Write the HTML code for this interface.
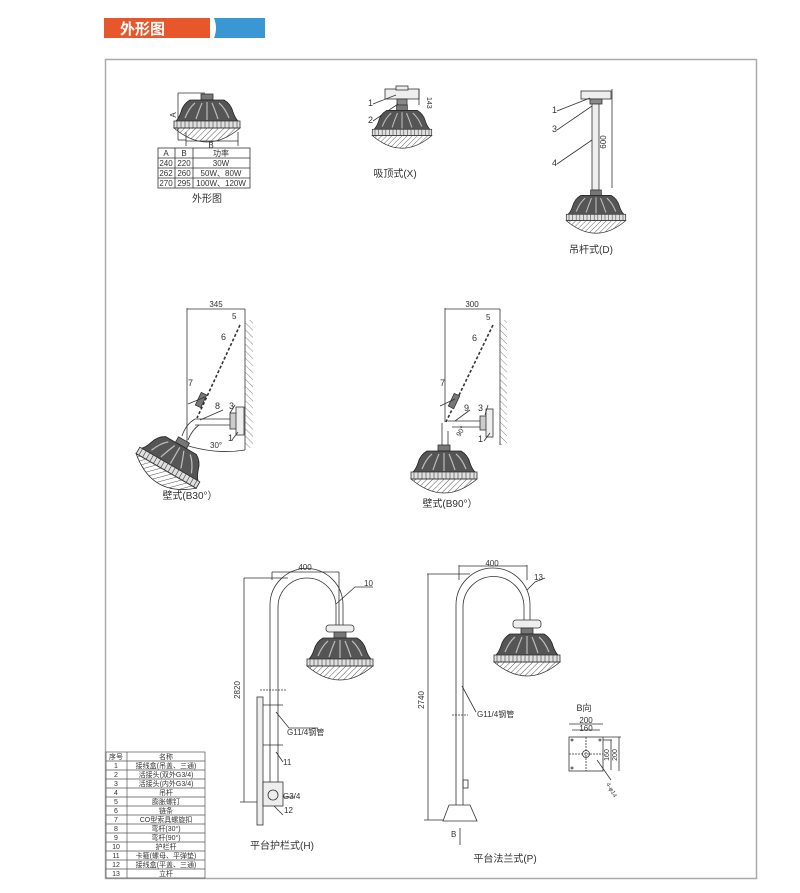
<!DOCTYPE html>
<html><head><meta charset="utf-8"><style>
html,body{margin:0;padding:0;background:#fff;}
svg{display:block;}
text{font-family:"Liberation Sans","Noto Sans CJK SC",sans-serif;fill:#333;}
</style></head><body>
<svg width="800" height="893" viewBox="0 0 800 893" xmlns="http://www.w3.org/2000/svg">
<defs>
<pattern id="hatch" width="4" height="4" patternUnits="userSpaceOnUse" patternTransform="rotate(45)">
<line x1="0" y1="0" x2="0" y2="4" stroke="#444" stroke-width="0.9"/></pattern>
<g id="lamp">
<rect x="-6" y="0" width="12" height="6" fill="#777" stroke="#333" stroke-width="0.8"/>
<path d="M-17,6 L17,6 Q24,10 26,18 Q28,24 31,27 L-31,27 Q-28,24 -26,18 Q-24,10 -17,6 Z" fill="#555" stroke="#222" stroke-width="0.8"/>
<path d="M-12,9 Q-18,14 -22,24 M-5,9 Q-8,16 -11,25 M5,9 Q8,16 11,25 M12,9 Q18,14 22,24 M0,8 L0,26" stroke="#bbb" stroke-width="1.2" fill="none"/>
<rect x="-33" y="27" width="66" height="7" fill="#e0e0e0" stroke="#333" stroke-width="0.8"/>
<path d="M-30,27 v7 M-26,27 v7 M-22,27 v7 M-18,27 v7 M-14,27 v7 M-10,27 v7 M-6,27 v7 M-2,27 v7 M2,27 v7 M6,27 v7 M10,27 v7 M14,27 v7 M18,27 v7 M22,27 v7 M26,27 v7 M30,27 v7" stroke="#555" stroke-width="0.7"/>
<path d="M-33,34 Q0,62 33,34 Z" fill="url(#hatch)" stroke="#333" stroke-width="0.8"/>
</g>
<pattern id="wallh" width="5" height="5" patternUnits="userSpaceOnUse" patternTransform="rotate(-45)">
<line x1="0" y1="0" x2="0" y2="5" stroke="#666" stroke-width="0.8"/></pattern>
</defs>

<rect x="104" y="18" width="106" height="20" fill="#e8562b"/>
<text x="120" y="34" font-size="15" font-weight="bold" style="fill:#fff">外形图</text>
<path d="M214,18 h51 v20 h-51 q4,-10 0,-20 Z" fill="#3b96d4"/>

<rect x="105.5" y="59.5" width="651" height="819" fill="none" stroke="#aaa" stroke-width="1.5"/>

<g stroke="#333" stroke-width="0.8" fill="none">
<line x1="178" y1="93" x2="178" y2="140"/><line x1="178" y1="93" x2="205" y2="93"/><line x1="178" y1="140" x2="186" y2="140"/>
<line x1="186" y1="132" x2="186" y2="146"/><line x1="238" y1="132" x2="238" y2="146"/><line x1="186" y1="141" x2="238" y2="141"/>
<rect x="158" y="148" width="92" height="40"/>
<line x1="158" y1="158" x2="250" y2="158"/><line x1="158" y1="168" x2="250" y2="168"/><line x1="158" y1="178" x2="250" y2="178"/>
<line x1="175" y1="148" x2="175" y2="188"/><line x1="193" y1="148" x2="193" y2="188"/>
</g>
<use href="#lamp" transform="translate(207,94)"/>
<g font-size="8" text-anchor="middle">
<text x="173" y="118" transform="rotate(-90 173 115)">A</text>
<text x="211" y="148">B</text>
<text x="166" y="156">A</text><text x="184" y="156">B</text><text x="221" y="156">功率</text>
<text x="166" y="166">240</text><text x="184" y="166">220</text><text x="221" y="166">30W</text>
<text x="166" y="176">262</text><text x="184" y="176">260</text><text x="221" y="176">50W、80W</text>
<text x="166" y="186">270</text><text x="184" y="186">295</text><text x="221" y="186">100W、120W</text>
</g>
<text x="207" y="202" font-size="10" text-anchor="middle">外形图</text>

<g stroke="#333" stroke-width="0.8" fill="#eee">
<rect x="385" y="89" width="34" height="10"/><rect x="396" y="86" width="12" height="4"/>
<rect x="397" y="99" width="10" height="6" fill="#888"/>
<line x1="419" y1="89" x2="419" y2="105" fill="none"/>
<path d="M373,104 L396,95 M373,121 L398,104" fill="none"/>
</g>
<use href="#lamp" transform="translate(402,105) scale(0.9)"/>
<text x="368" y="106" font-size="9">1</text><text x="368" y="123" font-size="9">2</text>
<text x="427" y="97" font-size="7" transform="rotate(90 427 97)">143</text>
<text x="395" y="177" font-size="10" text-anchor="middle">吸顶式(X)</text>

<g stroke="#333" stroke-width="0.8" fill="#eee">
<rect x="581" y="91" width="30" height="8"/><rect x="590" y="99" width="12" height="5" fill="#888"/>
<rect x="592" y="104" width="7" height="86"/>
<line x1="612" y1="89" x2="612" y2="188" fill="none"/>
<path d="M557,111 L590,98 M557,130 L592,106 M557,164 L592,140" fill="none"/>
</g>
<use href="#lamp" transform="translate(596,190) scale(0.9)"/>
<text x="552" y="113" font-size="9">1</text><text x="552" y="132" font-size="9">3</text><text x="552" y="166" font-size="9">4</text>
<text x="606" y="142" font-size="8" transform="rotate(-90 606 142)" text-anchor="middle">600</text>
<text x="591" y="253" font-size="10" text-anchor="middle">吊杆式(D)</text>

<g stroke="#333" stroke-width="0.8" fill="none">
<line x1="187" y1="308" x2="187" y2="452"/><line x1="187" y1="309" x2="245" y2="309"/><line x1="245" y1="309" x2="245" y2="450"/>
<rect x="245" y="320" width="8" height="128" fill="url(#wallh)" stroke="none"/>
<line x1="240" y1="325" x2="197" y2="418" stroke-dasharray="3,2" stroke-width="1.6"/>
<rect x="198" y="393" width="6" height="14" fill="#777" transform="rotate(25 201 400)"/>
<path d="M195,419 L232,419 M195,425 L232,425" />
<path d="M195,419 Q186,424 182,436 M199,425 Q192,430 188,440"/>
<rect x="230" y="413" width="8" height="16" fill="#ccc"/><rect x="236" y="407" width="8" height="28" fill="#eee"/>
<path d="M182,444 Q215,455 245,450" />
<path d="M188,404 L205,397 M200,420 L223,410 M230,413 L235,405 M238,432 L232,440"/>
</g>
<use href="#lamp" transform="translate(184,440) rotate(30) scale(1.05)"/>
<text x="216" y="307" font-size="8" text-anchor="middle">345</text>
<text x="232" y="319" font-size="8">5</text><text x="221" y="340" font-size="9">6</text>
<text x="188" y="386" font-size="9">7</text><text x="215" y="409" font-size="9">8</text>
<text x="229" y="409" font-size="9">3</text><text x="228" y="441" font-size="9">1</text>
<text x="210" y="448" font-size="8">30°</text>
<text x="190" y="499" font-size="10" text-anchor="middle">壁式(B30°）</text>

<g stroke="#333" stroke-width="0.8" fill="none">
<line x1="445" y1="308" x2="445" y2="422"/><line x1="445" y1="309" x2="500" y2="309"/><line x1="500" y1="309" x2="500" y2="445"/>
<rect x="500" y="320" width="7" height="125" fill="url(#wallh)" stroke="none"/>
<line x1="493" y1="325" x2="446" y2="422" stroke-dasharray="3,2" stroke-width="1.6"/>
<rect x="451" y="394" width="6" height="14" fill="#777" transform="rotate(25 454 401)"/>
<path d="M448,421 L481,421 M452,427 L481,427 M442,423 L442,445 M448,431 L448,445"/>
<rect x="480" y="416" width="7" height="14" fill="#ccc"/><rect x="486" y="409" width="7" height="28" fill="#eee"/>
<path d="M440,406 L455,399 M455,421 L470,410 M485,415 L488,405 M490,433 L484,441"/>
</g>
<use href="#lamp" transform="translate(444,445)"/>
<text x="472" y="307" font-size="8" text-anchor="middle">300</text>
<text x="486" y="320" font-size="8">5</text><text x="472" y="341" font-size="9">6</text>
<text x="440" y="386" font-size="9">7</text><text x="464" y="411" font-size="9">9</text>
<text x="478" y="411" font-size="9">3</text><text x="478" y="442" font-size="9">1</text>
<text x="460" y="437" font-size="7" transform="rotate(-60 460 437)">90°</text>
<text x="450" y="507" font-size="10" text-anchor="middle">壁式(B90°）</text>

<g stroke="#333" stroke-width="0.8" fill="none">
<path d="M270,805 L270,605 A33,33 0 0 1 343,605 L343,630"/>
<path d="M278,805 L278,607 A29,29 0 0 1 336,607 L336,630"/>
<line x1="272" y1="572" x2="272" y2="580"/><line x1="339" y1="572" x2="339" y2="630"/><line x1="272" y1="572" x2="339" y2="572"/>
<line x1="244" y1="578" x2="288" y2="578"/><line x1="244" y1="578" x2="244" y2="802"/><line x1="240" y1="802" x2="270" y2="802"/>
<rect x="257" y="697" width="6" height="128" fill="#eee"/>
<rect x="263" y="782" width="20" height="24" fill="#eee"/><circle cx="273" cy="795" r="5"/>
<line x1="260" y1="690" x2="287" y2="690" stroke-dasharray="2,1"/><line x1="263" y1="705" x2="283" y2="705"/><line x1="263" y1="745" x2="283" y2="745"/>
<path d="M373,587 L355,587 L336,604 M276,712 L289,728 L318,728 M276,752 L283,762 M283,797 L295,797 M274,806 L283,815"/>
<rect x="326" y="625" width="28" height="7" fill="#eee" rx="3"/>
</g>
<use href="#lamp" transform="translate(340,632)"/>
<text x="305" y="570" font-size="8" text-anchor="middle">400</text>
<text x="364" y="586" font-size="8">10</text>
<text x="240" y="690" font-size="8" transform="rotate(-90 240 690)" text-anchor="middle">2820</text>
<text x="287" y="735" font-size="8">G11/4钢管</text>
<text x="283" y="765" font-size="8">11</text>
<text x="283" y="799" font-size="8">G3/4</text>
<text x="284" y="813" font-size="8">12</text>
<text x="282" y="849" font-size="10" text-anchor="middle">平台护栏式(H)</text>

<g stroke="#333" stroke-width="0.8" fill="none">
<path d="M456,815 L456,605 A36,36 0 0 1 530,605 L530,620"/>
<path d="M463,815 L463,607 A30,30 0 0 1 524,607 L524,620"/>
<line x1="459" y1="565" x2="459" y2="580"/><line x1="527" y1="565" x2="527" y2="580"/><line x1="459" y1="566" x2="527" y2="566"/>
<line x1="427" y1="574" x2="470" y2="574"/><line x1="428" y1="574" x2="428" y2="820"/><line x1="424" y1="820" x2="445" y2="820"/>
<path d="M443,821 L477,821 L470,805 L449,805 Z" fill="#fff"/>
<line x1="460" y1="828" x2="460" y2="845"/>
<line x1="452" y1="715" x2="468" y2="715" stroke-dasharray="2,1"/>
<rect x="463" y="780" width="5" height="8"/>
<path d="M545,578 L535,582 L527,590 M462,686 L476,712"/>
<rect x="513" y="620" width="28" height="8" fill="#eee" rx="3"/>
</g>
<use href="#lamp" transform="translate(527,628)"/>
<text x="492" y="566" font-size="8" text-anchor="middle">400</text>
<text x="534" y="580" font-size="8">13</text>
<text x="424" y="700" font-size="8" transform="rotate(-90 424 700)" text-anchor="middle">2740</text>
<text x="477" y="717" font-size="8">G11/4钢管</text>
<text x="451" y="837" font-size="8">B</text>
<text x="505" y="862" font-size="10" text-anchor="middle">平台法兰式(P)</text>

<g stroke="#333" stroke-width="0.8" fill="none">
<rect x="569" y="737" width="34" height="34"/>
<line x1="569" y1="724" x2="603" y2="724"/><line x1="572" y1="730" x2="600" y2="730"/>
<line x1="586" y1="737" x2="586" y2="771" stroke-dasharray="2,1"/><line x1="569" y1="754" x2="603" y2="754" stroke-dasharray="2,1"/>
<circle cx="586" cy="754" r="3.5"/>
<circle cx="572" cy="740" r="1" /><circle cx="600" cy="740" r="1"/><circle cx="572" cy="768" r="1"/>
<line x1="603" y1="740" x2="612" y2="740"/><line x1="611" y1="740" x2="611" y2="770"/><line x1="619" y1="737" x2="619" y2="771"/><line x1="603" y1="737" x2="621" y2="737"/>
<line x1="597" y1="760" x2="611" y2="780"/>
</g>
<text x="584" y="711" font-size="9" text-anchor="middle">B向</text>
<text x="586" y="723" font-size="8" text-anchor="middle">200</text>
<text x="586" y="731" font-size="8" text-anchor="middle">160</text>
<text x="609" y="755" font-size="7" transform="rotate(-90 609 755)" text-anchor="middle">160</text>
<text x="617" y="755" font-size="7" transform="rotate(-90 617 755)" text-anchor="middle">200</text>
<text x="606" y="784" font-size="6" transform="rotate(60 606 784)">4-φ14</text>

<g stroke="#555" stroke-width="0.7" fill="none">
<rect x="106" y="752" width="99" height="126"/>
<line x1="127" y1="752" x2="127" y2="878"/>
<path d="M106,761h99 M106,770h99 M106,779h99 M106,788h99 M106,797h99 M106,806h99 M106,815h99 M106,824h99 M106,833h99 M106,842h99 M106,851h99 M106,860h99 M106,869h99"/>
</g>
<g font-size="7" text-anchor="middle">
<text x="116" y="759">序号</text><text x="166" y="759">名称</text>
<text x="116" y="768">1</text><text x="166" y="768">接线盒(吊盖、三通)</text>
<text x="116" y="777">2</text><text x="166" y="777">活接头(双外G3/4)</text>
<text x="116" y="786">3</text><text x="166" y="786">活接头(内外G3/4)</text>
<text x="116" y="795">4</text><text x="166" y="795">吊杆</text>
<text x="116" y="804">5</text><text x="166" y="804">膨胀螺钉</text>
<text x="116" y="813">6</text><text x="166" y="813">链条</text>
<text x="116" y="822">7</text><text x="166" y="822">CO型索具螺旋扣</text>
<text x="116" y="831">8</text><text x="166" y="831">弯杆(30°)</text>
<text x="116" y="840">9</text><text x="166" y="840">弯杆(90°)</text>
<text x="116" y="849">10</text><text x="166" y="849">护栏杆</text>
<text x="116" y="858">11</text><text x="166" y="858">卡箍(螺母、平弹垫)</text>
<text x="116" y="867">12</text><text x="166" y="867">接线盒(平盖、三通)</text>
<text x="116" y="876">13</text><text x="166" y="876">立杆</text>
</g>
</svg>
</body></html>
